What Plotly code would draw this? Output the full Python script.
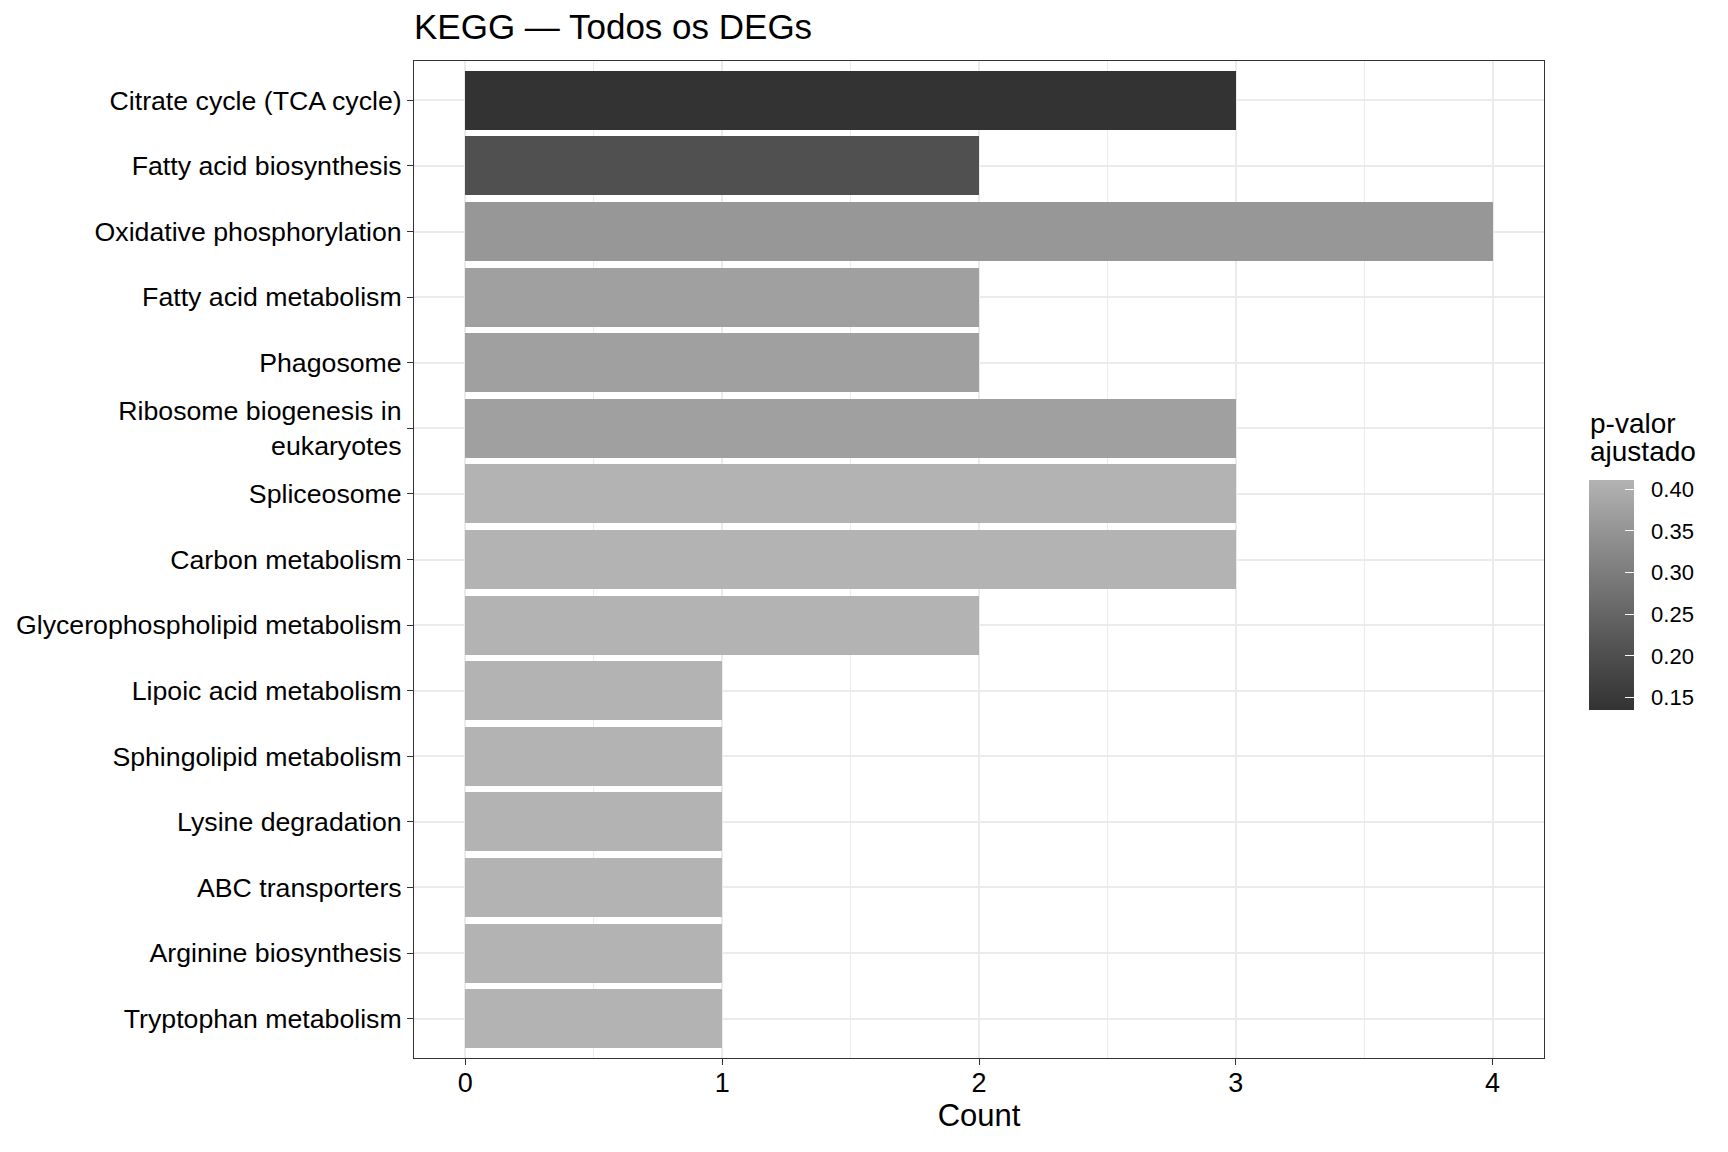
import plotly.graph_objects as go
import numpy as np

categories = [
    "Citrate cycle (TCA cycle)",
    "Fatty acid biosynthesis",
    "Oxidative phosphorylation",
    "Fatty acid metabolism",
    "Phagosome",
    "Ribosome biogenesis in<br>eukaryotes",
    "Spliceosome",
    "Carbon metabolism",
    "Glycerophospholipid metabolism",
    "Lipoic acid metabolism",
    "Sphingolipid metabolism",
    "Lysine degradation",
    "ABC transporters",
    "Arginine biosynthesis",
    "Tryptophan metabolism",
]
counts = [3, 2, 4, 2, 2, 3, 3, 3, 2, 1, 1, 1, 1, 1, 1]
padj = [0.135, 0.203, 0.356, 0.374, 0.374, 0.374, 0.411, 0.411, 0.411, 0.411, 0.411, 0.411, 0.411, 0.411, 0.411]
cbar_ticks = [0.15, 0.20, 0.25, 0.30, 0.35, 0.40]
legend_title_lines = ["p-valor", "ajustado"]

# Lab interpolated grey scale (grey20 -> grey70)
def srgb_to_lin(c):
    c = c / 255
    return c / 12.92 if c <= 0.04045 else ((c + 0.055) / 1.055) ** 2.4
def lin_to_srgb(c):
    v = 12.92 * c if c <= 0.0031308 else 1.055 * c ** (1 / 2.4) - 0.055
    return int(round(min(max(v, 0), 1) * 255))
def L_of(g):
    y = srgb_to_lin(g)
    f = y ** (1 / 3) if y > 0.008856 else 7.787 * y + 16 / 116
    return 116 * f - 16
def g_of_L(L):
    fy = (L + 16) / 116
    y = fy ** 3 if fy ** 3 > 0.008856 else (fy - 16 / 116) / 7.787
    return lin_to_srgb(y)
L0, L1 = L_of(51), L_of(179)
colorscale = []
for t in np.linspace(0, 1, 11):
    g = g_of_L(L0 + (L1 - L0) * t)
    colorscale.append([float(t), f"rgb({g},{g},{g})"])

cmin, cmax = min(padj), max(padj)

W, H = 1728, 1152
OFF = 8  # page body margin offset
ML, MR, MT, MB = 414 - OFF, 184 + OFF, 61 - OFF, 94 + OFF
PW, PH = W - ML - MR, H - MT - MB

FONT = "Liberation Sans, Arial, sans-serif"

def px_to_paper(xp, yp):
    return (xp - OFF - ML) / PW, 1 - (yp - OFF - MT) / PH

cb_x, cb_y = px_to_paper(1589, (480 + 710) / 2)

fig = go.Figure()
fig.add_trace(go.Bar(
    x=counts, y=categories, orientation="h", width=0.9,
    marker=dict(color=padj, colorscale=colorscale, cmin=cmin, cmax=cmax,
                line=dict(width=0),
                colorbar=dict(
                    tickvals=cbar_ticks, ticktext=["\u00a0\u00a0" + f"{v:.2f}" for v in cbar_ticks],
                    ticks="inside", ticklen=9, tickcolor="white", tickwidth=1,
                    tickfont=dict(size=22, color="black", family=FONT),
                    thickness=45, thicknessmode="pixels",
                    len=230, lenmode="pixels",
                    x=cb_x, xref="paper", xanchor="left", xpad=0,
                    y=cb_y, yref="paper", yanchor="middle", ypad=0,
                    outlinewidth=0,
                )),
    showlegend=False,
))

for line, yc in zip(legend_title_lines, [423, 452]):
    ax, ay = px_to_paper(1588, yc)
    fig.add_annotation(text=line, x=ax, y=ay, xref="paper", yref="paper",
                       xanchor="left", yanchor="middle", showarrow=False,
                       font=dict(size=28, color="black", family=FONT))

fig.update_layout(
    width=W, height=H,
    paper_bgcolor="white", plot_bgcolor="white",
    font=dict(family=FONT, color="black"),
    margin=dict(l=ML, r=MR, t=MT, b=MB, autoexpand=False),
    title=dict(text="KEGG — Todos os DEGs", x=(414 - OFF) / W, xanchor="left",
               y=1 - (27 - OFF) / H, yanchor="middle", font=dict(size=35, color="black")),
    bargap=0,
)
fig.update_xaxes(
    range=[-0.2, 4.2], tickvals=[0, 1, 2, 3, 4],
    ticks="outside", ticklen=6, tickcolor="#333333", tickwidth=1.2,
    ticklabelstandoff=-5,
    tickfont=dict(size=27, color="black"),
    title=dict(text="Count", font=dict(size=31, color="black"), standoff=4),
    showgrid=True, gridcolor="#ebebeb", gridwidth=1.6,
    minor=dict(tickvals=[0.5, 1.5, 2.5, 3.5], showgrid=True, gridcolor="#ebebeb", gridwidth=0.8),
    showline=True, linecolor="#333333", linewidth=1, mirror=True, zeroline=False,
    automargin=False,
)
fig.update_yaxes(
    autorange=False, range=[14.6, -0.6],
    categoryorder="array", categoryarray=categories,
    ticks="outside", ticklen=6, tickcolor="#333333", tickwidth=1.2,
    tickfont=dict(size=26.7, color="black"),
    showgrid=True, gridcolor="#ebebeb", gridwidth=1.6,
    showline=True, linecolor="#333333", linewidth=1, mirror=True, zeroline=False,
    automargin=False,
)

fig.write_html("out.html")
